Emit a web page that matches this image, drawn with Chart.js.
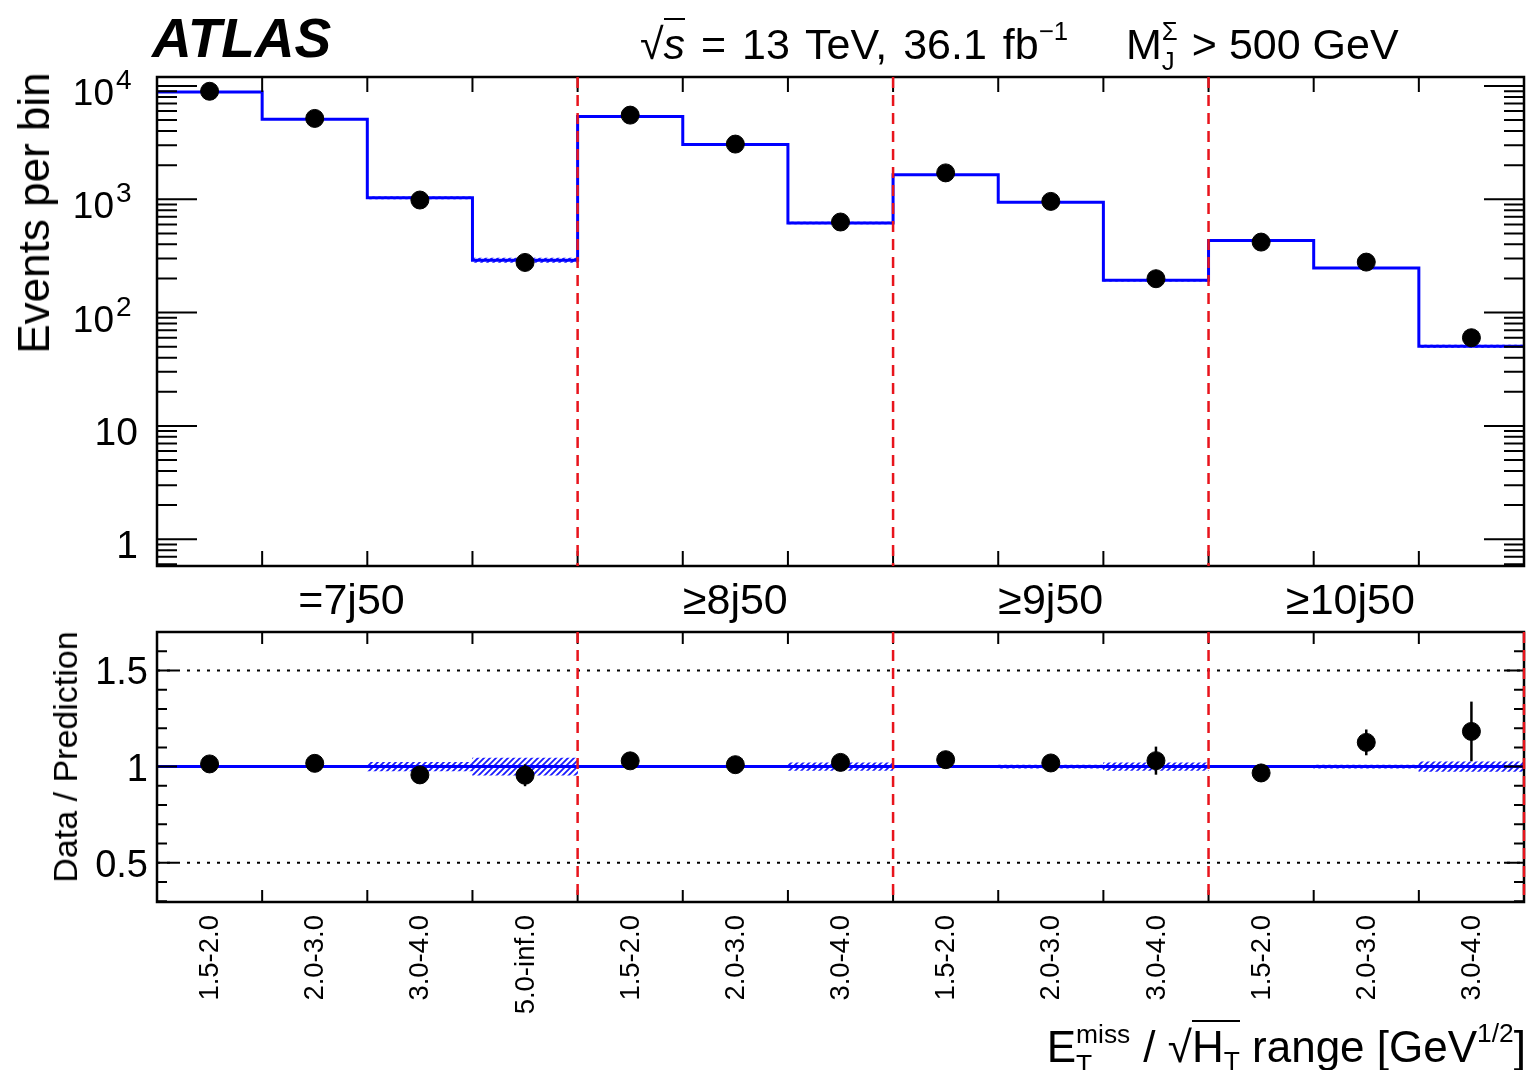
<!DOCTYPE html>
<html>
<head>
<meta charset="utf-8">
<title>Events per bin</title>
<script src="https://cdn.jsdelivr.net/npm/chart.js@4.4.1/dist/chart.umd.min.js"></script>
<style>
  html, body { margin: 0; padding: 0; background: #fff; }
  body { position: relative; width: 1530px; height: 1070px; overflow: hidden;
         font-family: "Liberation Sans", Arial, Helvetica, sans-serif; color: #000; }
  canvas { position: absolute; left: 0; }
  #main { top: 0; }
  #ratio { top: 600px; }
  .t { position: absolute; white-space: nowrap; line-height: 1; }
  .hi { position: relative; top: -0.75em; font-size: 0.6em; }
  .st { display: inline-block; position: relative; height: 0; }
  .st span { position: absolute; left: 0; font-size: 0.6em; line-height: 1; }
  .st .a { top: -1.55em; }
  .st .b { top: -0.4em; }
  .ov { border-top: 2px solid #000; padding-top: 0; }
  .rot { transform: translate(-50%, -50%) rotate(-90deg); }
</style>
</head>
<body>
<canvas id="main" width="1530" height="600"></canvas>
<canvas id="ratio" width="1530" height="470"></canvas>

<div class="t" style="left:152px; top:11px; font-size:55px; font-weight:bold; font-style:italic;">ATLAS</div>
<div class="t" style="left:640px; top:23px; font-size:43px; word-spacing:4px;">√<span class="ov"><i>s</i></span> = 13 TeV, 36.1 fb<span class="hi">−1</span></div>
<div class="t" style="left:1126px; top:23px; font-size:43px;">M<span class="st" style="width:0.42em;"><span class="a">Σ</span><span class="b">J</span></span> &gt; 500 GeV</div>

<div class="t rot" style="left:34px; top:213px; font-size:44px;">Events per bin</div>
<div class="t rot" style="left:65px; top:757px; font-size:34px;">Data / Prediction</div>
<div class="t" style="right:4px; top:1025px; font-size:44px;">E<span class="st" style="width:1.25em;"><span class="a">miss</span><span class="b">T</span></span> / √<span class="ov">H<span style="font-size:0.6em; position:relative; top:0.3em;">T</span></span> range [GeV<span class="hi">1/2</span>]</div>

<script>
// bins of E_T^miss / sqrt(H_T), grouped by jet multiplicity
const binLabels = ['1.5-2.0', '2.0-3.0', '3.0-4.0', '5.0-inf.0',
                   '1.5-2.0', '2.0-3.0', '3.0-4.0',
                   '1.5-2.0', '2.0-3.0', '3.0-4.0',
                   '1.5-2.0', '2.0-3.0', '3.0-4.0'];
const jetLabels = ['=7j50', '≥8j50', '≥9j50', '≥10j50'];
const jetBins = [4, 3, 3, 3];

const predicted = [8850, 5090, 1030, 290, 5370, 3040, 617, 1650, 940, 193, 433, 248, 50.5];
const observed = [8980, 5170, 985, 277, 5530, 3070, 630, 1710, 958, 199, 419, 279, 60];
const predRelUnc = [0.005, 0.006, 0.022, 0.045, 0.005, 0.006, 0.02, 0.006, 0.008, 0.02, 0.006, 0.008, 0.025];

const ratio = [1.014, 1.017, 0.957, 0.955, 1.03, 1.01, 1.022, 1.036, 1.019, 1.031, 0.967, 1.126, 1.183];
const ratioErr = [0.011, 0.014, 0.031, 0.057, 0.014, 0.018, 0.04, 0.024, 0.032, 0.073, 0.047, 0.067, 0.155];

const mainTicks = [1, 10, 100, 1000, 10000];
const ratioTicks = [0.5, 1, 1.5];
const ratioRefLines = [0.5, 1.5];

const nBins = binLabels.length;
const FONT = '"Liberation Sans", Arial, sans-serif';

// group boundaries (cumulative bin counts)
const groupEdges = [];
jetBins.reduce((s, n) => { groupEdges.push(s + n); return s + n; }, 0);

function logMinor(lo, hi) {
    const out = [];
    for (let e = Math.floor(Math.log10(lo)); e <= Math.ceil(Math.log10(hi)); e++) {
        for (let m = 2; m <= 9; m++) {
            const v = m * Math.pow(10, e);
            if (v > lo && v < hi) out.push(v);
        }
    }
    return out;
}

function linMinor(lo, hi, step, skip) {
    const out = [];
    for (let v = Math.ceil(lo / step) * step; v < hi; v += step) {
        const r = Math.round(v * 1000) / 1000;
        if (r > lo && !skip.includes(r)) out.push(r);
    }
    return out;
}

function makeHatch(canvas) {
    const c = document.createElement('canvas');
    c.width = 6; c.height = 6;
    const g = c.getContext('2d');
    g.strokeStyle = '#1a1aff';
    g.lineWidth = 1.8;
    g.beginPath();
    g.moveTo(-1, 7); g.lineTo(7, -1);
    g.moveTo(-1, 1); g.lineTo(1, -1);
    g.moveTo(5, 7); g.lineTo(7, 5);
    g.stroke();
    return canvas.getContext('2d').createPattern(c, 'repeat');
}

// frame, inside ticks, labels, separators, error bars (ROOT style)
function panelDecor(cfg) {
    return {
        id: 'panelDecor',
        beforeDatasetsDraw(chart) {
            const { ctx, chartArea: a, scales: { y } } = chart;
            ctx.save();
            ctx.strokeStyle = '#000';
            ctx.lineWidth = 2;
            ctx.setLineDash([3, 7]);
            (cfg.refLines || []).forEach(v => {
                const py = y.getPixelForValue(v);
                ctx.beginPath();
                ctx.moveTo(a.left, py);
                ctx.lineTo(a.right, py);
                ctx.stroke();
            });
            ctx.restore();
        },
        afterDatasetsDraw(chart) {
            if (!cfg.errors) return;
            const { ctx, scales: { x, y } } = chart;
            ctx.save();
            ctx.strokeStyle = '#000';
            ctx.lineWidth = 2.5;
            cfg.errors.center.forEach((v, i) => {
                const px = x.getPixelForValue(i + 0.5);
                ctx.beginPath();
                ctx.moveTo(px, y.getPixelForValue(v - cfg.errors.err[i]));
                ctx.lineTo(px, y.getPixelForValue(v + cfg.errors.err[i]));
                ctx.stroke();
            });
            ctx.restore();
        },
        afterDraw(chart) {
            const { ctx, chartArea: a, scales: { x, y } } = chart;
            ctx.save();

            ctx.strokeStyle = '#000';
            ctx.lineWidth = 2;
            ctx.beginPath();
            for (let i = 1; i < nBins; i++) {
                const px = x.getPixelForValue(i);
                ctx.moveTo(px, a.top); ctx.lineTo(px, a.top + cfg.xTick);
                ctx.moveTo(px, a.bottom); ctx.lineTo(px, a.bottom - cfg.xTick);
            }
            const yTick = (v, len) => {
                const py = y.getPixelForValue(v);
                ctx.moveTo(a.left, py); ctx.lineTo(a.left + len, py);
                ctx.moveTo(a.right, py); ctx.lineTo(a.right - len, py);
            };
            cfg.major.forEach(v => yTick(v, cfg.majorLen));
            cfg.minor.forEach(v => yTick(v, cfg.minorLen));
            ctx.stroke();

            ctx.lineWidth = 2.5;
            ctx.strokeRect(a.left, a.top, a.width, a.height);

            // jet multiplicity separators
            ctx.strokeStyle = '#e8141c';
            ctx.lineWidth = 2.5;
            ctx.setLineDash([11, 7]);
            cfg.dividers.forEach(b => {
                const px = x.getPixelForValue(b);
                ctx.beginPath();
                ctx.moveTo(px, a.top);
                ctx.lineTo(px, a.bottom);
                ctx.stroke();
            });
            ctx.setLineDash([]);

            // y tick labels
            ctx.fillStyle = '#000';
            ctx.textBaseline = 'alphabetic';
            cfg.major.forEach(v => {
                const py = y.getPixelForValue(v) + cfg.labelShift;
                const xr = a.left - cfg.labelGap;
                if (cfg.log && v >= 100) {
                    const e = String(Math.round(Math.log10(v)));
                    ctx.font = '28px ' + FONT;
                    ctx.textAlign = 'left';
                    ctx.fillText(e, xr - 22, py - 16);
                    ctx.font = '37px ' + FONT;
                    ctx.textAlign = 'right';
                    ctx.fillText('10', xr - 24, py);
                } else {
                    ctx.font = cfg.labelFont;
                    ctx.textAlign = 'right';
                    ctx.fillText(String(v), xr, py);
                }
            });

            // rotated bin labels
            if (cfg.binText) {
                ctx.font = '27.5px ' + FONT;
                ctx.textAlign = 'right';
                ctx.textBaseline = 'middle';
                binLabels.forEach((lab, i) => {
                    ctx.save();
                    ctx.translate(x.getPixelForValue(i + 0.5), a.bottom + 13);
                    ctx.rotate(-Math.PI / 2);
                    ctx.fillText(lab, 0, 1);
                    ctx.restore();
                });
            }
            ctx.restore();
        }
    };
}

const binCenters = predicted.map((p, i) => i + 0.5);

// ---------- upper panel: event yields ----------
const mainCanvas = document.getElementById('main');
const hatchMain = makeHatch(mainCanvas);

const mainChart = new Chart(mainCanvas, {
    type: 'line',
    data: {
        datasets: [
            {
                type: 'bar',
                data: predicted.map((p, i) => ({ x: binCenters[i], y: [p * (1 - predRelUnc[i]), p * (1 + predRelUnc[i])] })),
                backgroundColor: hatchMain,
                borderWidth: 0,
                barPercentage: 1,
                categoryPercentage: 1,
                order: 3
            },
            {
                data: predicted.map((p, i) => ({ x: i, y: p })).concat([{ x: nBins, y: predicted[nBins - 1] }]),
                stepped: true,
                borderColor: '#0000ff',
                borderWidth: 3,
                pointRadius: 0,
                fill: false,
                order: 2
            },
            {
                data: observed.map((v, i) => ({ x: binCenters[i], y: v })),
                showLine: false,
                pointRadius: 9,
                pointBackgroundColor: '#000',
                pointBorderColor: '#000',
                pointBorderWidth: 1,
                order: 1
            }
        ]
    },
    options: {
        responsive: false,
        animation: false,
        events: [],
        layout: { autoPadding: false, padding: { left: 157, top: 77, right: 6, bottom: 34 } },
        plugins: { legend: { display: false }, tooltip: { enabled: false } },
        scales: {
            x: { type: 'linear', min: 0, max: nBins, offset: false, display: false },
            y: { type: 'logarithmic', min: 0.58, max: 12000, display: false }
        }
    },
    plugins: [panelDecor({
        log: true,
        major: mainTicks,
        minor: logMinor(0.58, 12000),
        majorLen: 40,
        minorLen: 20,
        xTick: 15,
        dividers: groupEdges.slice(0, -1),
        labelFont: '39px ' + FONT,
        labelGap: 19,
        labelShift: 19
    })]
});

// jet multiplicity labels between the panels
const xs = mainChart.scales.x;
const labelNudge = [-0.15, 0, 0, -0.15];
let start = 0;
jetLabels.forEach((lab, k) => {
    const mid = start + jetBins[k] / 2 + labelNudge[k];
    start += jetBins[k];
    const d = document.createElement('div');
    d.className = 't';
    d.textContent = lab;
    d.style.fontSize = '43px';
    d.style.top = (614 - 0.8465 * 43) + 'px';
    d.style.left = xs.getPixelForValue(mid) + 'px';
    d.style.transform = 'translateX(-50%)';
    document.body.appendChild(d);
});

// ---------- lower panel: data / prediction ----------
const ratioCanvas = document.getElementById('ratio');
const hatchRatio = makeHatch(ratioCanvas);

new Chart(ratioCanvas, {
    type: 'line',
    data: {
        datasets: [
            {
                type: 'bar',
                data: predRelUnc.map((u, i) => ({ x: binCenters[i], y: [1 - u, 1 + u] })),
                backgroundColor: hatchRatio,
                borderWidth: 0,
                barPercentage: 1,
                categoryPercentage: 1,
                order: 3
            },
            {
                data: [{ x: 0, y: 1 }, { x: nBins, y: 1 }],
                borderColor: '#0000ff',
                borderWidth: 3,
                pointRadius: 0,
                fill: false,
                order: 2
            },
            {
                data: ratio.map((v, i) => ({ x: binCenters[i], y: v })),
                showLine: false,
                pointRadius: 9,
                pointBackgroundColor: '#000',
                pointBorderColor: '#000',
                pointBorderWidth: 1,
                order: 1
            }
        ]
    },
    options: {
        responsive: false,
        animation: false,
        events: [],
        layout: { autoPadding: false, padding: { left: 157, top: 32, right: 6, bottom: 168 } },
        plugins: { legend: { display: false }, tooltip: { enabled: false } },
        scales: {
            x: { type: 'linear', min: 0, max: nBins, offset: false, display: false },
            y: { type: 'linear', min: 0.296, max: 1.70, display: false }
        }
    },
    plugins: [panelDecor({
        log: false,
        major: ratioTicks,
        minor: linMinor(0.296, 1.70, 0.1, ratioTicks),
        majorLen: 20,
        minorLen: 10,
        xTick: 12,
        dividers: groupEdges,
        refLines: ratioRefLines,
        errors: { center: ratio, err: ratioErr },
        labelFont: '38px ' + FONT,
        labelGap: 9,
        labelShift: 14,
        binText: true
    })]
});
</script>
</body>
</html>
